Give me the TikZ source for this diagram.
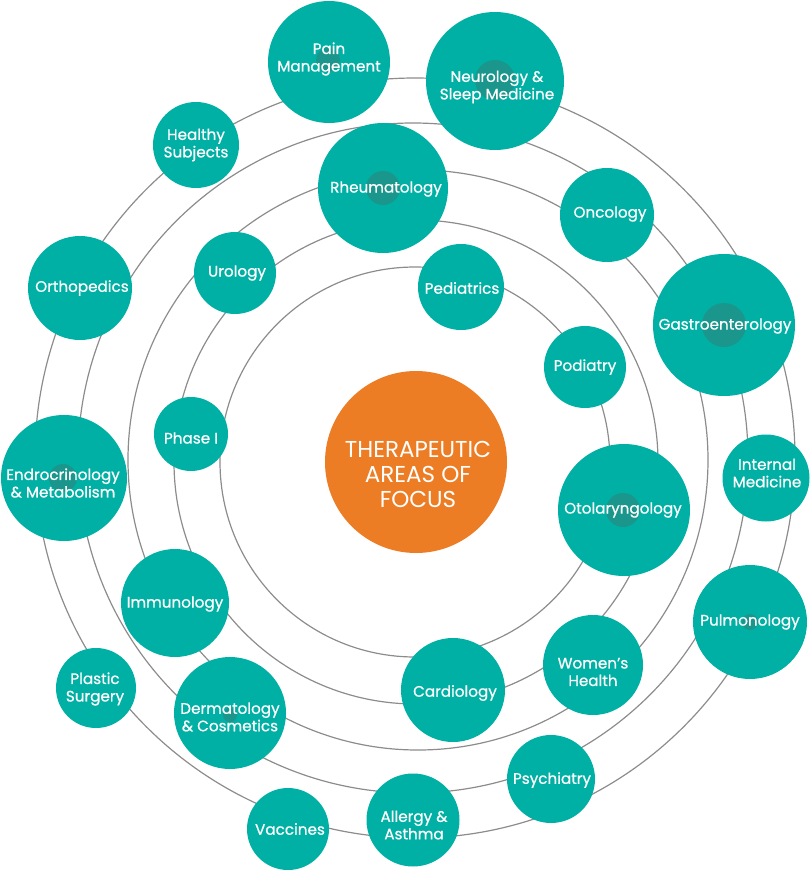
\documentclass[tikz,border=0pt]{standalone}
\usepackage{fontspec}
\setmainfont{Poppins}
\newfontfamily\lblfont{Poppins}[FakeBold=0.7]
\definecolor{tealA}{RGB}{0,176,164}
\definecolor{tealD}{RGB}{26,150,140}
\definecolor{orngA}{RGB}{237,125,36}
\definecolor{ringC}{RGB}{140,140,140}
\begin{document}
\begin{tikzpicture}[x=1pt,y=-1pt,
  area/.style={circle,fill=tealA,draw=none,inner sep=0pt},
  core/.style={circle,fill=tealD,draw=none,inner sep=0pt},
  lbl/.style={text=white,font=\lblfont\fontsize{15.2}{17.5}\selectfont,align=center,inner sep=0pt},
  hub/.style={circle,fill=orngA,draw=none,inner sep=0pt},
  hublbl/.style={text=white,font=\fontsize{23}{25}\selectfont,align=center,inner sep=0pt},
  ringline/.style={draw=ringC,line width=1.2pt}]
\useasboundingbox (0,0) rectangle (810,870);
% rings
\draw[ringline] (415,462) circle[radius=195pt];
\draw[ringline] (416,462) circle[radius=242pt];
\draw[ringline] (418,460) circle[radius=290pt];
\draw[ringline] (413,458) circle[radius=335pt];
\draw[ringline] (415,458) circle[radius=380pt];
% hub
\node[hub,minimum size=182pt] (hub) at (416,462) {};
\node[hublbl] (hubL) at (418,474) {THERAPEUTIC\\AREAS OF\\FOCUS};
% areas
\node[area,minimum size=122pt] (pain) at (329,62) {};
\node[area,minimum size=86pt] (healthy) at (196,145) {};
\node[area,minimum size=130pt] (rheum) at (383,188) {};
\node[area,minimum size=104pt] (ortho) at (80,288) {};
\node[area,minimum size=82pt] (uro) at (235,273) {};
\node[area,minimum size=74pt] (phase) at (191,434) {};
\node[area,minimum size=138pt] (neuro) at (495,81) {};
\node[area,minimum size=94pt] (onco) at (607,215) {};
\node[area,minimum size=86pt] (pedia) at (461,287) {};
\node[area,minimum size=82pt] (podia) at (585,367) {};
\node[area,minimum size=142pt] (gastro) at (724,325) {};
\node[area,minimum size=87pt] (intmed) at (766,478) {};
\node[area,minimum size=132pt] (oto) at (624,510) {};
\node[area,minimum size=114pt] (pulmo) at (750,622) {};
\node[area,minimum size=100pt] (women) at (593,665) {};
\node[area,minimum size=104pt] (cardio) at (453,690) {};
\node[area,minimum size=88pt] (psych) at (551,779) {};
\node[area,minimum size=93pt] (allergy) at (413,820) {};
\node[area,minimum size=82pt] (vacc) at (288,829) {};
\node[area,minimum size=112pt] (derma) at (230,713) {};
\node[area,minimum size=80pt] (plastic) at (96,688) {};
\node[area,minimum size=108pt] (immuno) at (175,603) {};
\node[area,minimum size=126pt] (endo) at (64,478) {};
% darker cores
\node[core,minimum size=24pt] (painC) at (328,60) {};
\node[core,minimum size=34pt] (rheumC) at (383,188) {};
\node[core,minimum size=40pt] (neuroC) at (495,80) {};
\node[core,minimum size=44pt] (gastroC) at (724,325) {};
\node[core,minimum size=34pt] (otoC) at (623,510) {};
\node[core,minimum size=28pt] (endoC) at (63,478) {};
\node[core,minimum size=14pt] (dermaC) at (230,715) {};
\node[core,minimum size=16pt] (pulmoC) at (750,622) {};
% labels
\node[lbl] (painL) at (329,59) {Pain\\Management};
\node[lbl] (healthyL) at (196,145) {Healthy\\Subjects};
\node[lbl] (rheumL) at (386,189) {Rheumatology};
\node[lbl] (orthoL) at (82,288) {Orthopedics};
\node[lbl] (uroL) at (237,273) {Urology};
\node[lbl] (phaseL) at (191,438) {Phase I};
\node[lbl] (neuroL) at (497,87) {Neurology \&\\Sleep Medicine};
\node[lbl] (oncoL) at (610,214) {Oncology};
\node[lbl] (pediaL) at (462,288) {Pediatrics};
\node[lbl] (podiaL) at (585,367) {Podiatry};
\node[lbl] (gastroL) at (725,326) {Gastroenterology};
\node[lbl] (intmedL) at (767,473) {Internal\\Medicine};
\node[lbl] (otoL) at (623,510) {Otolaryngology};
\node[lbl] (pulmoL) at (750,622) {Pulmonology};
\node[lbl] (womenL) at (593,672) {Women’s\\Health};
\node[lbl] (cardioL) at (455,693) {Cardiology};
\node[lbl] (psychL) at (552,780) {Psychiatry};
\node[lbl] (allergyL) at (414,825) {Allergy \&\\Asthma};
\node[lbl] (vaccL) at (290,829) {Vaccines};
\node[lbl] (dermaL) at (230,717) {Dermatology\\\& Cosmetics};
\node[lbl] (plasticL) at (95,689) {Plastic\\Surgery};
\node[lbl] (immunoL) at (175,604) {Immunology};
\node[lbl] (endoL) at (63,483) {Endrocrinology\\\& Metabolism};
\end{tikzpicture}
\end{document}
